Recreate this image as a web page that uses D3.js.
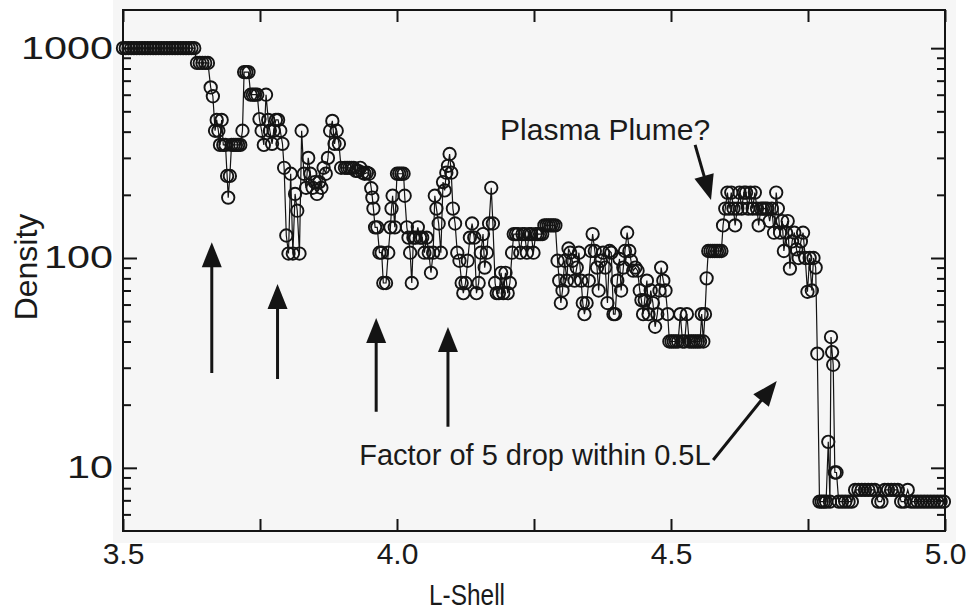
<!DOCTYPE html>
<html><head><meta charset="utf-8">
<script src="https://cdn.jsdelivr.net/npm/d3@7"></script>
<style>
body{margin:0;background:#fff;}
svg{display:block;}
text{font-family:"Liberation Sans",Arial,Helvetica,sans-serif;fill:#1a1a1a;}
</style>
</head><body>
<svg id="chart" width="967" height="614"></svg>
<script>
// ---- data: [L-Shell, Density], in order along the pass ----
const segPlasmasphere = [
[3.500,1000],[3.505,1000],[3.510,1000],[3.515,1000],[3.520,1000],[3.525,1000],[3.530,1000],[3.535,1000],[3.540,1000],[3.545,1000],
[3.550,1000],[3.555,1000],[3.560,1000],[3.565,1000],[3.570,1000],[3.575,1000],[3.580,1000],[3.585,1000],[3.590,1000],[3.595,1000],
[3.600,1000],[3.605,1000],[3.610,1000],[3.615,1000],[3.620,1000],[3.625,1000],[3.630,1000],
[3.635,850],[3.640,850],[3.645,850],[3.650,850],[3.655,850],[3.660,650],[3.664,590],[3.668,404],[3.671,455],[3.674,404],
[3.677,346],[3.680,455],[3.683,346],[3.687,346],[3.690,246],[3.692,194],[3.695,246],[3.698,346],[3.702,346],[3.706,346],
[3.710,346],[3.714,346],[3.718,404],[3.721,769],[3.725,769],[3.729,769],[3.733,600],[3.737,600],[3.741,600],[3.745,600],
[3.749,459],[3.753,404],[3.757,346],[3.761,600],[3.765,455],[3.768,404],[3.772,350],[3.775,404],[3.779,455],[3.783,455],
[3.787,404],[3.791,350],[3.794,269]
];
const segTrough1 = [
[3.798,128],[3.802,105],[3.806,252],[3.810,105],[3.814,202],[3.818,168],[3.822,105],[3.826,404],[3.830,252],[3.834,216],
[3.838,300],[3.842,252],[3.846,216],[3.850,230],[3.854,202],[3.858,230],[3.862,216],[3.866,269],[3.870,252],[3.874,300],
[3.878,404],[3.882,450],[3.886,350],[3.890,404],[3.894,350],[3.898,269],[3.905,269],[3.909,269],[3.913,269],[3.917,269],
[3.921,269],[3.925,260],[3.929,260],[3.933,269],[3.937,255],[3.941,252],[3.945,255],[3.949,252],[3.953,215],[3.955,194],
[3.957,172],[3.960,140],[3.964,140],[3.968,106],[3.972,106],[3.975,76],[3.980,76],[3.984,106],[3.988,140],[3.990,172],
[3.992,198],[3.996,140]
];
const segTrough2 = [
[4.000,252],[4.004,252],[4.008,252],[4.012,252],[4.014,198],[4.018,140],[4.021,125],[4.024,106],[4.027,76],[4.030,125],
[4.034,125],[4.038,140],[4.042,125],[4.046,125],[4.050,106],[4.054,125],[4.058,106],[4.062,85],[4.066,106],[4.069,198],
[4.072,172],[4.076,146],[4.080,106],[4.084,230],[4.087,210],[4.090,255],[4.093,275],[4.096,313],[4.099,255],[4.102,172],
[4.106,146],[4.110,106],[4.114,97],[4.118,76],[4.121,68],[4.125,76],[4.129,97],[4.133,125],[4.137,146],[4.141,125],
[4.145,68],[4.149,76],[4.153,106],[4.157,130],[4.160,90],[4.164,106],[4.168,146],[4.172,216],[4.175,146],[4.179,76],
[4.182,68],[4.186,68],[4.190,85],[4.194,68],[4.198,85],[4.202,68],[4.206,76],[4.210,106],[4.213,130],[4.217,130],
[4.221,130],[4.225,106],[4.229,130],[4.233,130],[4.237,106],[4.241,130],[4.245,130],[4.249,106],[4.253,130],[4.257,130],
[4.261,130],[4.265,130],[4.269,143],[4.273,143],[4.277,143],[4.281,143],[4.285,143],[4.289,143],[4.293,97],[4.296,78],
[4.299,61],[4.302,70]
];
const segTrough3 = [
[4.306,97],[4.310,78],[4.313,111],[4.316,106],[4.320,97],[4.324,78],[4.328,90],[4.332,106],[4.336,78],[4.339,61],
[4.342,54],[4.346,61],[4.350,78],[4.354,108],[4.357,130],[4.361,108],[4.365,90],[4.368,70],[4.372,97],[4.376,106],
[4.380,90],[4.384,61],[4.388,108],[4.391,106],[4.395,54],[4.398,54],[4.402,78],[4.406,99],[4.409,70],[4.413,90],
[4.416,108],[4.420,132],[4.424,108],[4.427,97],[4.431,87],[4.435,90],[4.439,87],[4.443,70],[4.446,63],[4.449,54],
[4.452,63],[4.456,78],[4.459,54],[4.463,70],[4.467,61],[4.471,47],[4.475,54],[4.479,70],[4.482,90],[4.486,78],
[4.490,70],[4.494,54],[4.497,40],[4.501,40],[4.505,40],[4.509,40],[4.513,40],[4.517,54],[4.521,40],[4.525,40],
[4.529,54],[4.533,40],[4.537,40],[4.541,40],[4.545,40],[4.549,40],[4.553,40],[4.556,54],[4.559,40],[4.562,54]
];
const segPlume = [
[4.565,80],[4.568,108],[4.572,108],[4.576,108],[4.580,108],[4.584,108],[4.588,108],[4.592,108],[4.595,143],[4.599,172],
[4.603,205],[4.606,172],[4.610,205],[4.614,172],[4.617,143],[4.621,172],[4.625,205],[4.629,172],[4.633,205],[4.637,205],
[4.641,172],[4.645,205],[4.649,172],[4.653,205],[4.657,172],[4.660,143],[4.664,172],[4.668,172],[4.672,172],[4.676,172],
[4.680,150],[4.684,172],[4.688,132],[4.692,205],[4.695,172],[4.699,132],[4.703,150],[4.706,108],[4.710,132],[4.713,150],
[4.717,89],[4.721,120],[4.725,132],[4.729,110],[4.733,100],[4.737,120],[4.741,132],[4.745,100],[4.749,69],[4.753,100],
[4.757,70],[4.760,100],[4.764,90],[4.767,35]
];
const segOuter = [
[4.771,6.9],[4.775,6.9],[4.779,6.9],[4.783,6.9],[4.787,13.3],[4.790,6.9],[4.792,42],[4.794,35.6],[4.796,31],[4.799,9.5],
[4.802,9.5],[4.806,6.9],[4.812,6.9],[4.818,6.9],[4.824,6.9],[4.830,6.9],[4.836,7.85],[4.842,7.85],[4.848,7.85],[4.854,7.85],
[4.860,7.85],[4.866,7.85],[4.872,7.85],[4.878,6.9],[4.884,6.9],[4.890,7.85],[4.896,7.85],[4.902,7.85],[4.908,7.85],[4.914,7.85],
[4.920,6.9],[4.926,6.9],[4.932,7.85],[4.938,6.9],[4.944,6.9],[4.950,6.9],[4.956,6.9],[4.962,6.9],[4.968,6.9],[4.974,6.9],
[4.980,6.9],[4.986,6.9],[4.992,6.9],[4.998,6.9]
];

const xTickValues = [3.5, 3.75, 4.0, 4.25, 4.5, 4.75, 5.0];
const xTickLabels = ["3.5", "", "4.0", "", "4.5", "", "5.0"];
const yMajorTicks = [10, 100, 1000];
const yMinorTicks = [6,7,8,9,20,30,40,50,60,70,80,90,200,300,400,500,600,700,800,900];
const yTickLabels = ["10", "100", "1000"];

// annotation arrows in data coordinates: [L0, n0] tail -> [L1, n1] tip
const upArrows = [
  [[3.662, 28.3], [3.662, 119]],
  [[3.782, 26.5], [3.782, 75.2]],
  [[3.962, 18.5], [3.962, 51.8]],
  [[4.093, 15.7], [4.093, 46.9]]
];
const plumeArrow = [[4.544, 346], [4.573, 189]];
const dropArrow = [[4.577, 10.9], [4.693, 25.9]];
const plumeLabel = {text: "Plasma Plume?", at: [4.188, 365]};
const dropLabel = {text: "Factor of 5 drop within 0.5L", at: [3.931, 10.3]};

// ---- drawing ----
(function () {
const data = [].concat(segPlasmasphere, segTrough1, segTrough2, segTrough3, segPlume, segOuter);
const svg = d3.select("#chart");
const pL = 123, pR = 945, pT = 10, pB = 531;
const x = d3.scaleLinear().domain([3.5, 5.0]).range([pL, pR]);
const y = d3.scaleLog().domain([5, 1520]).range([pB, pT]);
const ink = "#141414";

svg.append("rect").attr("x", 0).attr("y", 0).attr("width", 967).attr("height", 614).attr("fill", "#ffffff");
svg.append("rect").attr("x", 113).attr("y", 0).attr("width", 843).attr("height", 543).attr("fill", "#f6f6f6");

const gB = svg.append("g").attr("transform", `translate(0,${pB})`)
  .call(d3.axisBottom(x).tickValues(xTickValues).tickSizeInner(-12).tickSizeOuter(0).tickPadding(10)
    .tickFormat((d, i) => xTickLabels[i]));
const gT = svg.append("g").attr("transform", `translate(0,${pT})`)
  .call(d3.axisTop(x).tickValues(xTickValues).tickSizeInner(-12).tickSizeOuter(0).tickFormat(""));
const gL = svg.append("g").attr("transform", `translate(${pL},0)`)
  .call(d3.axisLeft(y).tickValues(yMajorTicks).tickSizeInner(-14).tickSizeOuter(0).tickPadding(10)
    .tickFormat((d, i) => yTickLabels[i]));
const gLm = svg.append("g").attr("transform", `translate(${pL},0)`)
  .call(d3.axisLeft(y).tickValues(yMinorTicks).tickSizeInner(-8).tickSizeOuter(0).tickFormat(""));
const gR = svg.append("g").attr("transform", `translate(${pR},0)`)
  .call(d3.axisRight(y).tickValues(yMajorTicks).tickSizeInner(-14).tickSizeOuter(0).tickFormat(""));
const gRm = svg.append("g").attr("transform", `translate(${pR},0)`)
  .call(d3.axisRight(y).tickValues(yMinorTicks).tickSizeInner(-8).tickSizeOuter(0).tickFormat(""));
[gB, gT, gL, gLm, gR, gRm].forEach(g => {
  g.select(".domain").remove();
  g.selectAll(".tick line").attr("stroke", ink).attr("stroke-width", 2);
  g.selectAll(".tick text").attr("fill", ink).style("font-size", "30px")
    .style("font-family", '"Liberation Sans", Arial, sans-serif');
});
gB.selectAll(".tick text").attr("dy", "0.75em");
// y labels are drawn wide in the original
gL.selectAll(".tick text").style("font-size", "31px")
  .attr("textLength", (d, i) => 23 * yTickLabels[i].length).attr("lengthAdjust", "spacingAndGlyphs");

svg.append("rect").attr("x", pL).attr("y", pT).attr("width", pR - pL).attr("height", pB - pT)
  .attr("fill", "none").attr("stroke", ink).attr("stroke-width", 2);

svg.append("text").attr("x", 467).attr("y", 605).attr("text-anchor", "middle")
  .style("font-size", "30px").attr("textLength", 76).attr("lengthAdjust", "spacingAndGlyphs").text("L-Shell");
svg.append("text").attr("transform", `translate(37,267) rotate(-90)`)
  .attr("text-anchor", "middle").style("font-size", "32px").text("Density");

svg.append("path").datum(data)
  .attr("d", d3.line().x(d => x(d[0])).y(d => y(d[1])))
  .attr("fill", "none").attr("stroke", ink).attr("stroke-width", 1.2);
svg.append("g").selectAll("circle").data(data).join("circle")
  .attr("cx", d => x(d[0])).attr("cy", d => y(d[1])).attr("r", 6.2)
  .attr("fill", "none").attr("stroke", ink).attr("stroke-width", 1.9);

function arrow(a, b, headLen, headHalf, width) {
  const x0 = x(a[0]), y0 = y(a[1]), x1 = x(b[0]), y1 = y(b[1]);
  const dx = x1 - x0, dy = y1 - y0, len = Math.hypot(dx, dy);
  const ux = dx / len, uy = dy / len, px = -uy, py = ux;
  const bx = x1 - ux * headLen, by = y1 - uy * headLen;
  svg.append("line").attr("x1", x0).attr("y1", y0).attr("x2", bx + ux * 2).attr("y2", by + uy * 2)
    .attr("stroke", ink).attr("stroke-width", width);
  svg.append("path").attr("d", `M${x1},${y1}L${bx + px * headHalf},${by + py * headHalf}L${bx - px * headHalf},${by - py * headHalf}Z`)
    .attr("fill", ink);
}
upArrows.forEach(a => arrow(a[0], a[1], 25, 10, 3));
arrow(plumeArrow[0], plumeArrow[1], 25, 10, 3);
arrow(dropArrow[0], dropArrow[1], 25, 10, 3);

svg.append("text").attr("x", x(plumeLabel.at[0])).attr("y", y(plumeLabel.at[1]))
  .style("font-size", "30px").text(plumeLabel.text);
svg.append("text").attr("x", x(dropLabel.at[0])).attr("y", y(dropLabel.at[1]))
  .style("font-size", "29px").text(dropLabel.text);
})();
</script>
</body></html>
